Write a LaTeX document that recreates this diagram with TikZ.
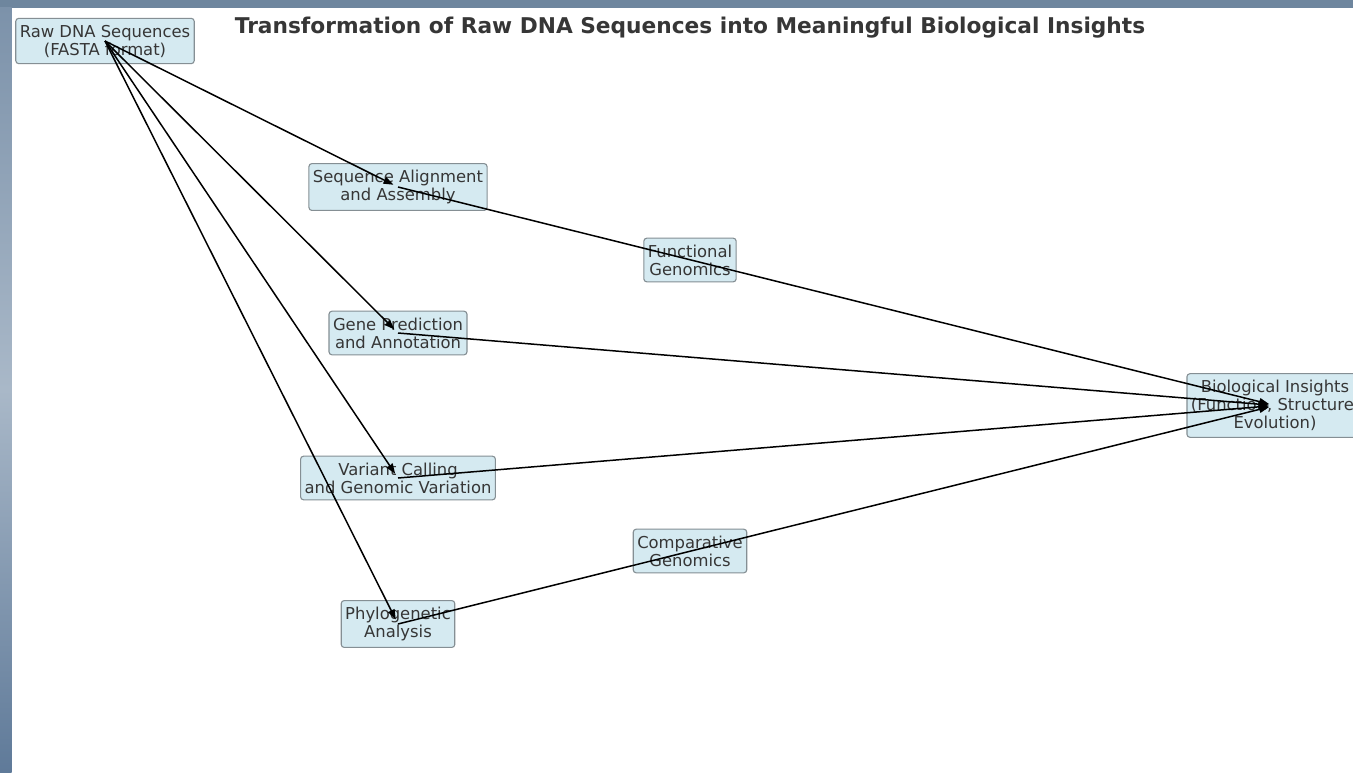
\documentclass[tikz,border=0pt]{standalone}
\usepackage{fontspec}
\setmainfont{DejaVu Sans}
\usetikzlibrary{arrows.meta}
\definecolor{boxfill}{HTML}{D5EAF1}
\definecolor{boxline}{HTML}{858F94}
\definecolor{txt}{HTML}{363636}
\definecolor{frame}{HTML}{6E869E}
\definecolor{frameA}{HTML}{7C92AA}
\definecolor{frameB}{HTML}{A9B8C8}
\definecolor{frameC}{HTML}{5F7A99}
\tikzset{
  stagebox/.style={draw=boxline, line width=1.1pt, fill=boxfill, rounded corners=3pt,
    align=center, text=txt, inner xsep=4pt, inner ysep=6.5pt,
    font=\fontsize{16.4}{18}\selectfont},
  flow/.style={-{Triangle[length=10pt,width=7pt]}, line width=1.5pt, black, shorten >=5pt},
  titletext/.style={text=txt, font=\fontsize{21.7}{24}\selectfont\bfseries}
}
\begin{document}
\begin{tikzpicture}[x=1pt,y=-1pt]
\useasboundingbox (0,0) rectangle (1353,772);
\clip (0,0) rectangle (1353,772);
% screen frame
\fill[frame] (0,0) rectangle (1353,7.5);
\shade[top color=frameA, bottom color=frameC, middle color=frameB] (0,7.5) rectangle (11.5,772);
\fill[white] (11.5,7.5) rectangle (1353,772);

\node[titletext] (title) at (690,28) {Transformation of Raw DNA Sequences into Meaningful Biological Insights};

\node[stagebox] (raw) at (105,41) {Raw DNA Sequences\\(FASTA format)};
\node[stagebox] (seq) at (398,187) {Sequence Alignment\\and Assembly};
\node[stagebox] (func) at (690,260) {Functional\\Genomics};
\node[stagebox] (gene) at (398,333) {Gene Prediction\\and Annotation};
\node[stagebox] (var) at (398,478) {Variant Calling\\and Genomic Variation};
\node[stagebox] (comp) at (690,551) {Comparative\\Genomics};
\node[stagebox] (phylo) at (398,624) {Phylogenetic\\Analysis};
\node[stagebox] (bio) at (1275,405.5) {Biological Insights\\(Function, Structure,\\Evolution)};

\draw[flow] (raw.center) -- (seq.center);
\draw[flow] (raw.center) -- (gene.center);
\draw[flow] (raw.center) -- (var.center);
\draw[flow] (raw.center) -- (phylo.center);
\draw[flow, shorten >=6pt] (seq.center) -- (bio.center);
\draw[flow, shorten >=6pt] (gene.center) -- (bio.center);
\draw[flow, shorten >=6pt] (var.center) -- (bio.center);
\draw[flow, shorten >=6pt] (phylo.center) -- (bio.center);
\end{tikzpicture}
\end{document}
